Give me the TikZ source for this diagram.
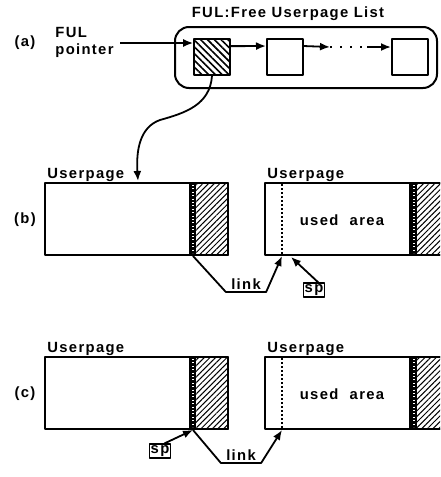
\documentclass[tikz,border=0pt]{standalone}
\usepackage{fontspec}
\setsansfont{Liberation Sans}[LetterSpace=9]
\usepackage{tikz}
\usetikzlibrary{arrows.meta,calc,patterns.meta}
\usetikzlibrary{positioning}

\begin{document}
\begin{tikzpicture}[x=0.5pt,y=-0.5pt,>={Latex[length=5pt,width=4pt]},line join=round,
  lbl/.style={font=\sffamily\bfseries\fontsize{7.4}{8.5}\selectfont,inner sep=1pt},
  elem/.style={draw,line width=1pt,minimum size=18pt,inner sep=0pt},
  conn/.style={line width=0.9pt,->},
  hatch/.style={pattern={Lines[angle=45,distance=2pt,line width=0.5pt]}}]
\useasboundingbox (0,0) rectangle (440,477);
\clip (0,0) rectangle (440,477);
% (a) FUL list
\node[lbl] (title) at (288,14) {FUL:Free Userpage List};
\draw[line width=1pt,rounded corners=7pt] (175,27) rectangle (437,88);
\node[elem,pattern={Lines[angle=-45,distance=2.4pt,line width=0.8pt]}] (head) at (212,57) {};
\node[elem] (s2) at (285,57) {};
\node[elem] (s3) at (410,57) {};
\coordinate (d1) at (330,47);
\coordinate (d2) at (367,47);
\node[lbl] (la) at (25,43) {(a)};
\node[lbl,align=left,anchor=west] (ptr) at (53,42) {FUL\\pointer};
\coordinate (ptrend) at (120,43);
\draw[conn] (ptrend) -- (ptrend -| head.west);
\draw[conn] (head.30) -- (s2.150);
\draw[conn] (s2.30) -- (d1);
\draw[line width=1.2pt,dash pattern=on 1pt off 4pt] (d1) -- (d2);
\draw[conn] (d2) -- (d2 -| s3.west);
\coordinate (drop) at (138,181);
\draw[conn] (head.south) .. controls (210,105) and (185,113) .. (160,120) .. controls (140,127) and (136,150) .. (drop);
% userpages (b) and (c)
\foreach \r/\dy in {b/0,c/174} {
\begin{scope}[shift={(0,\dy)}]
\draw[line width=1pt] (45,183) rectangle (228,255);
\fill (190,183) rectangle (196,255);
\draw[white,line width=1pt,dash pattern=on 0.5pt off 1.2pt] (193,185) -- (193,253);
\fill[hatch] (196,183) rectangle (228,255);
\draw[line width=1pt] (190,183) rectangle (228,255);
\draw[line width=1pt] (265,183) rectangle (450,255);
\draw[line width=0.8pt,dash pattern=on 0.8pt off 1.2pt] (282,184) -- (282,254);
\fill (410,183) rectangle (417,255);
\draw[white,line width=1pt,dash pattern=on 0.5pt off 1.2pt] (413.5,185) -- (413.5,253);
\fill[hatch] (417,183) rectangle (450,255);
\draw[line width=1pt] (410,183) rectangle (450,255);
\node[lbl,anchor=base west] (upl\r) at (45,178) {Userpage};
\node[lbl,anchor=base west] (upr\r) at (265,178) {Userpage};
\node[lbl] (used\r) at (342,220) {used\hspace{0.4em} area};
\node[lbl] (lab\r) at (25,220) {(\r)};
\coordinate (lb\r) at (193,256);
\coordinate (rb\r) at (282,256);
\end{scope}
}
% link and sp in (b)
\node[lbl,anchor=south,inner xsep=2.5pt] (lnkb) at (246,292) {link};
\draw[conn] (lbb) -- (lnkb.south west) -- (lnkb.south east) -- (rbb);
\node[lbl,draw,line width=0.8pt,inner sep=0.6pt] (spb) at (314,290) {sp};
\coordinate (spbt) at (291,257);
\draw[conn] (spb.60) -- (spbt);
% link and sp in (c)
\node[lbl,anchor=south,inner xsep=2.5pt] (lnkc) at (241,463) {link};
\draw[conn] (lbc) -- (lnkc.south west) -- (lnkc.south east) -- (rbc);
\node[lbl,draw,line width=0.8pt,inner sep=0.6pt] (spc) at (160,451) {sp};
\draw[conn] (spc.60) -- (lbc);
\end{tikzpicture}
\end{document}
